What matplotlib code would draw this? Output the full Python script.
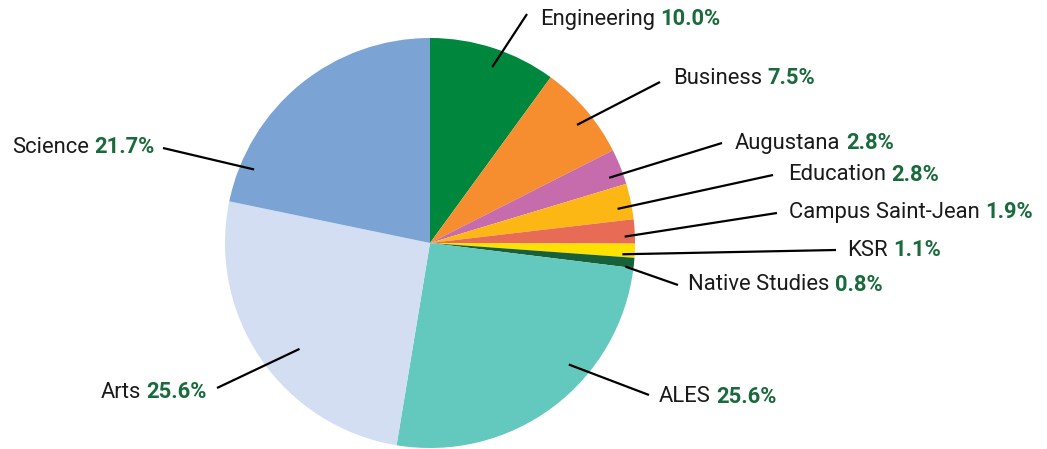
import numpy as np
import matplotlib.pyplot as plt

plt.rcParams['font.family'] = ['Roboto', 'DejaVu Sans']

faculties = ['Engineering', 'Business', 'Augustana', 'Education', 'Campus Saint-Jean',
             'KSR', 'Native Studies', 'ALES', 'Arts', 'Science']
shares = [10.0, 7.5, 2.8, 2.8, 1.9, 1.1, 0.8, 25.6, 25.6, 21.7]
colors = ['#00873E', '#F68D2E', '#C66BAC', '#FDB714', '#E86C55',
          '#FFE100', '#17613A', '#63C8BE', '#D3DEF2', '#7BA4D5']

# label layout (pixel positions in the 1047x449 canvas, y from top)
# (fraction along wedge, radius fraction, line end x, line end y, text x, text y, side)
layout = [
    (0.54, 0.91, 527, 14, 540, 19, 'left'),
    (0.56, 0.92, 660, 82, 673, 78, 'left'),
    (0.68, 0.93, 722, 143, 735, 143, 'left'),
    (0.64, 0.93, 773, 175, 788, 175, 'left'),
    (0.70, 0.95, 777, 213, 789, 212, 'left'),
    (0.80, 0.94, 836, 250, 847, 250, 'left'),
    (0.95, 0.96, 678, 285, 688, 285, 'left'),
    (0.37, 0.90, 649, 395, 659, 397, 'left'),
    (0.45, 0.82, 217, 388, 207, 392, 'right'),
    (0.14, 0.93, 163, 148, 155, 147, 'right'),
]

W, H = 1047, 449
cx, cy, R = 430, 243, 205
FS = 15.8

fig = plt.figure(figsize=(W / 100, H / 100), dpi=100)
ax = fig.add_axes([0, 0, 1, 1])

ax.pie(shares, colors=colors, startangle=90, counterclock=False, radius=1,
       wedgeprops=dict(linewidth=0))
ax.set_xlim(-cx / R, (W - cx) / R)
ax.set_ylim(-(H - cy) / R, cy / R)
ax.set_aspect('auto')
ax.axis('off')


def px(x, y):
    return (x - cx) / R, (cy - y) / R


total = sum(shares)
start = 0.0
for name, val, lay in zip(faculties, shares, layout):
    f, rf, lx, ly, tx, ty, side = lay
    span = val / total * 360
    cw = start + f * span
    th = np.deg2rad(90 - cw)
    x0, y0 = rf * np.cos(th), rf * np.sin(th)
    x1, y1 = px(lx, ly)
    ax.plot([x0, x1], [y0, y1], color='black', lw=1.6, solid_capstyle='butt')
    start += span

    txx, tyy = px(tx, ty)
    pct = f'{val:.1f}%'
    if side == 'left':
        t = ax.text(txx, tyy, name, ha='left', va='center', fontsize=FS, color='#1a1a1a')
        ax.annotate(pct, xy=(1, 0.5), xycoords=t, xytext=(4, 0), textcoords='offset points',
                    ha='left', va='center', fontsize=FS, fontweight='bold', color='#1A6B3C')
    else:
        t = ax.text(txx, tyy, pct, ha='right', va='center', fontsize=FS,
                    fontweight='bold', color='#1A6B3C')
        ax.annotate(name, xy=(0, 0.5), xycoords=t, xytext=(-4, 0), textcoords='offset points',
                    ha='right', va='center', fontsize=FS, color='#1a1a1a')

fig.savefig('out.png', dpi=100)
